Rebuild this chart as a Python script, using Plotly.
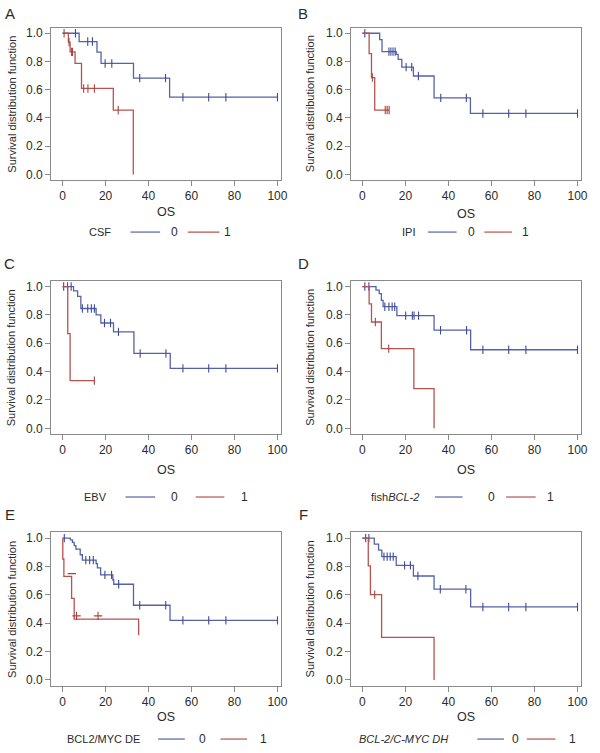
import plotly.graph_objects as go

# ---------------- data ----------------
PANEL_LETTERS = ["A", "B", "C", "D", "E", "F"]
GROUP_LABELS = ["CSF", "IPI", "EBV", "fish<i>BCL-2</i>", "BCL2/MYC DE", "<i>BCL-2/C-MYC DH</i>"]
LEVELS = ["0", "1"]
X_TICKS = [0, 20, 40, 60, 80, 100]
Y_TICKS = [0.0, 0.2, 0.4, 0.6, 0.8, 1.0]
X_TITLE = "OS"
Y_TITLE = "Survival distribution function"

# Panel A (CSF)
A0_t = [7.7, 16.0, 17.9, 33.0, 49.8]
A0_s = [0.941, 0.866, 0.786, 0.682, 0.547]
A0_c = [6.0, 11.7, 13.9, 19.8, 22.9, 35.9, 47.9, 56, 68, 76, 100]
A1_t = [2.7, 3.5, 5.8, 8.8, 23.6, 32.9]
A1_s = [0.937, 0.868, 0.786, 0.609, 0.455, 0.0]
A1_c = [0.7, 3.0, 4.2, 4.6, 9.8, 11.8, 14.8, 25.9]

# Panel B (IPI)
B0_t = [8.0, 9.1, 15.7, 16.6, 18.3, 23.7, 33.3, 50.2]
B0_s = [0.955, 0.870, 0.850, 0.815, 0.760, 0.697, 0.542, 0.432]
B0_c = [1.1, 12.3, 13.2, 14.2, 15.2, 20.3, 22.9, 26.0, 36.4, 48.3, 56, 68, 76, 100]
B1_t = [3.1, 4.2, 5.7]
B1_s = [0.855, 0.686, 0.456]
B1_c = [4.6, 10.6, 11.5, 12.4]

# Panel C (EBV)
C0_t = [5.1, 7.0, 8.5, 15.6, 17.8, 23.7, 33.2, 50.1]
C0_s = [0.970, 0.930, 0.845, 0.800, 0.743, 0.680, 0.528, 0.423]
C0_c = [0.5, 2.3, 4.0, 9.2, 11.7, 13.4, 14.8, 19.5, 22.3, 26.0, 36.1, 48.1, 56, 68, 76, 100]
C1_t = [2.4, 3.5]
C1_s = [0.668, 0.336]
C1_c = [14.8]

# Panel D (fish BCL-2)
D0_t = [6.3, 7.8, 8.8, 9.6, 16.0, 33.3, 50.3]
D0_s = [0.975, 0.950, 0.903, 0.858, 0.795, 0.692, 0.554]
D0_c = [1.1, 3.0, 10.4, 12.3, 13.8, 15.0, 20.1, 23.2, 24.0, 26.1, 36.3, 48.4, 56, 68, 76, 100]
D1_t = [3.1, 4.2, 8.8, 23.9, 33.3]
D1_s = [0.878, 0.750, 0.562, 0.280, 0.0]
D1_c = [6.0, 12.2]

# Panel E (BCL2/MYC DE)
E0_t = [3.6, 4.6, 5.4, 6.2, 8.2, 9.2, 15.6, 16.2, 17.7, 23.4, 23.8, 33.0, 50.0]
E0_s = [0.988, 0.970, 0.947, 0.923, 0.883, 0.845, 0.820, 0.790, 0.741, 0.705, 0.675, 0.527, 0.420]
E0_c = [0.8, 10.8, 12.6, 14.3, 19.7, 22.8, 26.1, 35.9, 48.0, 56, 68, 76, 100]
E1_t = [0.1, 0.6, 4.2, 5.4, 35.4]
E1_s = [0.853, 0.730, 0.575, 0.429, 0.315]
E1_c = [4.3, 6.5, 16.5]
E1_cs = [0.750, 0.452, 0.452]

# Panel F (BCL-2/C-MYC DH)
F0_t = [5.5, 7.5, 9.0, 15.7, 23.7, 33.3, 50.3]
F0_s = [0.958, 0.915, 0.870, 0.808, 0.733, 0.640, 0.515]
F0_c = [1.5, 3.0, 10.0, 11.5, 12.9, 14.3, 19.6, 22.3, 25.8, 36.2, 48.1, 56, 68, 76, 100]
F1_t = [2.7, 3.7, 8.9, 33.3]
F1_s = [0.805, 0.602, 0.300, 0.0]
F1_c = [5.7]

CURVES = [
    [(A0_t, A0_s, A0_c, None), (A1_t, A1_s, A1_c, None)],
    [(B0_t, B0_s, B0_c, None), (B1_t, B1_s, B1_c, None)],
    [(C0_t, C0_s, C0_c, None), (C1_t, C1_s, C1_c, None)],
    [(D0_t, D0_s, D0_c, None), (D1_t, D1_s, D1_c, None)],
    [(E0_t, E0_s, E0_c, None), (E1_t, E1_s, E1_c, E1_cs)],
    [(F0_t, F0_s, F0_c, None), (F1_t, F1_s, F1_c, None)],
]

# ---------------- styling / layout ----------------
W, H = 600, 753
FONT = "Liberation Sans, Arial, sans-serif"
TXT = "#2b2b2b"
AXC = "#8a8a8a"
LINE_COL = ["#5562a8", "#b5534e"]
MARK_COL = ["#3d4b9c", "#a8433e"]

# plot boxes in pixels: (left, right, top, bottom)
BOX_X = [(51.8, 284.0), (355.2, 587.6)]
BOX_Y = [(26.7, 179.8), (281.0, 434.7), (533.6, 687.4)]
X_RANGE = [-5.3, 101.5]
Y_RANGE = [-0.04, 1.04]

# per-panel label positions (pixels)
LETTER_POS = [(10, 13), (307, 13), (10, 264), (307, 264), (10, 516), (307, 516)]
OS_Y = [212, 214, 471, 471, 719, 719]
LEG_Y = [232, 232, 498, 498, 741, 741]
LEG_NAME_X = [101, 413, 97, 400, 105, 408]
LEG_L0 = [(132, 162), (433, 462), (127, 157), (440, 468), (160, 187), (483, 510)]
LEG_T0 = [177, 477, 177, 497, 205, 522]
LEG_L1 = [(190, 222), (490, 518), (198, 227), (512, 542), (223, 250), (533, 562)]
LEG_T1 = [230, 532, 247, 557, 267, 579]
YT_X = [12, 314]


def px(x):
    return x / W


def py(y):
    return 1 - y / H


def step_value(t, times, surv):
    s = 1.0
    for e, v in zip(times, surv):
        if e <= t:
            s = v
    return s


fig = go.Figure()
annotations = []
shapes = []

for i in range(6):
    col = i % 2
    row = i // 2
    n = i + 1
    xa = "xaxis" if n == 1 else f"xaxis{n}"
    ya = "yaxis" if n == 1 else f"yaxis{n}"
    xref = "x" if n == 1 else f"x{n}"
    yref = "y" if n == 1 else f"y{n}"
    l, r = BOX_X[col]
    t, b = BOX_Y[row]

    fig.update_layout({
        xa: dict(domain=[px(l), px(r)], range=X_RANGE, anchor=yref,
                 tickvals=X_TICKS, ticks="outside", ticklen=5, tickcolor=AXC,
                 showline=True, linecolor=AXC, linewidth=1, mirror=True,
                 showgrid=False, zeroline=False,
                 tickfont=dict(family=FONT, size=12, color=TXT)),
        ya: dict(domain=[py(b), py(t)], range=Y_RANGE, anchor=xref,
                 tickvals=Y_TICKS, ticktext=[f"{v:.1f}" for v in Y_TICKS],
                 ticks="outside", ticklen=5, tickcolor=AXC,
                 showline=True, linecolor=AXC, linewidth=1, mirror=True,
                 showgrid=False, zeroline=False,
                 tickfont=dict(family=FONT, size=12, color=TXT)),
    })

    for g, (times, surv, cens, cens_s) in enumerate(CURVES[i]):
        xs = [0.0] + list(times)
        ys = [1.0] + list(surv)
        last = max(list(cens) + list(times))
        if last > times[-1]:
            xs.append(last)
            ys.append(surv[-1])
        fig.add_trace(go.Scatter(x=xs, y=ys, mode="lines", line_shape="hv",
                                 line=dict(color=LINE_COL[g], width=1.3),
                                 xaxis=xref, yaxis=yref, showlegend=False,
                                 hoverinfo="skip"))
        if cens_s is None:
            cy = [step_value(c, times, surv) for c in cens]
            sym = "line-ns"
        else:
            cy = list(cens_s)
            sym = ["line-ew", "cross-thin", "cross-thin"]
        fig.add_trace(go.Scatter(x=list(cens), y=cy, mode="markers",
                                 marker=dict(symbol=sym, size=6,
                                             line=dict(color=MARK_COL[g], width=1.1),
                                             color=MARK_COL[g]),
                                 xaxis=xref, yaxis=yref, showlegend=False,
                                 hoverinfo="skip"))

    # panel letter
    lx, ly = LETTER_POS[i]
    annotations.append(dict(x=px(lx), y=py(ly), xref="paper", yref="paper",
                            text=PANEL_LETTERS[i], showarrow=False,
                            font=dict(family=FONT, size=15, color=TXT),
                            xanchor="center", yanchor="middle"))
    # y title
    annotations.append(dict(x=px(YT_X[col]), y=py((t + b) / 2), xref="paper", yref="paper",
                            text=Y_TITLE, textangle=-90, showarrow=False,
                            font=dict(family=FONT, size=11, color=TXT),
                            xanchor="center", yanchor="middle"))
    # x title
    annotations.append(dict(x=px((l + r) / 2), y=py(OS_Y[i]), xref="paper", yref="paper",
                            text=X_TITLE, showarrow=False,
                            font=dict(family=FONT, size=12.5, color=TXT),
                            xanchor="center", yanchor="middle"))
    # legend row
    annotations.append(dict(x=px(LEG_NAME_X[i]), y=py(LEG_Y[i]), xref="paper", yref="paper",
                            text=GROUP_LABELS[i], showarrow=False,
                            font=dict(family=FONT, size=11, color=TXT),
                            xanchor="center", yanchor="middle"))
    for g, (lseg, tx) in enumerate([(LEG_L0[i], LEG_T0[i]), (LEG_L1[i], LEG_T1[i])]):
        shapes.append(dict(type="line", xref="paper", yref="paper",
                           x0=px(lseg[0]), x1=px(lseg[1]), y0=py(LEG_Y[i]), y1=py(LEG_Y[i]),
                           line=dict(color=LINE_COL[g], width=1.2)))
        annotations.append(dict(x=px(tx), y=py(LEG_Y[i]), xref="paper", yref="paper",
                                text=LEVELS[g], showarrow=False,
                                font=dict(family=FONT, size=12, color=TXT),
                                xanchor="center", yanchor="middle"))

fig.update_layout(width=W, height=H, margin=dict(l=0, r=0, t=0, b=0),
                  paper_bgcolor="white", plot_bgcolor="white",
                  annotations=annotations, shapes=shapes, showlegend=False,
                  font=dict(family=FONT, color=TXT))

fig.write_html("out.html", config={"displayModeBar": False},
               post_script="document.body.style.margin='0';document.body.style.overflow='hidden';")
